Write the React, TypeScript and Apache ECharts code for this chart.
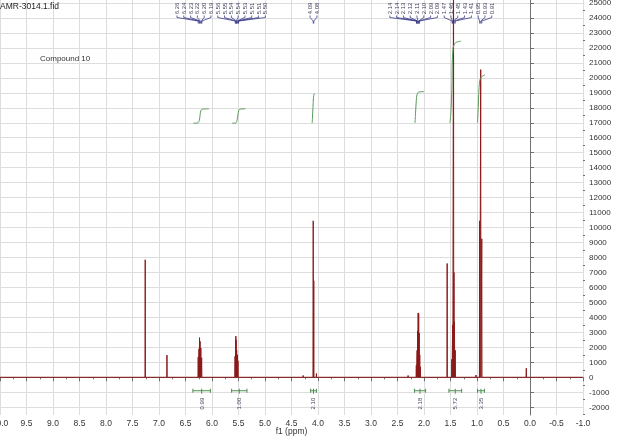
import React, { useEffect, useRef } from "react";
import * as echarts from "echarts";

const TITLE = "AMR-3014.1.fid";
const COMPOUND = "Compound 10";
const X_AXIS_NAME = "f1 (ppm)";
const FONT = "'Liberation Sans', Arial, sans-serif";

const X_MIN = -1;
const X_MAX = 10;
const Y_MIN = -2520;
const Y_MAX = 25200;

const Y_TICKS = [
  -2000, -1000, 0, 1000, 2000, 3000, 4000, 5000, 6000, 7000, 8000, 9000, 10000,
  11000, 12000, 13000, 14000, 15000, 16000, 17000, 18000, 19000, 20000, 21000,
  22000, 23000, 24000, 25000,
];
const Y_MINOR_TICKS = [
  -2500, -1500, -500, 500, 1500, 2500, 3500, 4500, 5500, 6500, 7500, 8500, 9500,
  10500, 11500, 12500, 13500, 14500, 15500, 16500, 17500, 18500, 19500, 20500,
  21500, 22500, 23500, 24500,
];

// spectrum lines (ppm, intensity)
const PEAK_PPM = [
  7.26, 6.85, 6.26, 6.245, 6.235, 6.225, 6.21, 6.195, 5.565, 5.55, 5.545, 5.535,
  5.52, 5.51, 4.28, 4.09, 4.08, 4.03, 2.3, 2.145, 2.13, 2.12, 2.11, 2.1, 2.09,
  2.08, 2.07, 1.563, 1.475, 1.46, 1.443, 1.435, 1.425, 1.41, 1.02, 0.95, 0.93,
  0.91, 0.07,
];
const PEAK_HEIGHT = [
  7850, 1480, 1350, 1900, 2650, 2400, 1950, 1300, 1400, 2750, 2500, 1800, 1500,
  1100, 120, 10450, 6450, 250, 120, 800, 1800, 3100, 4300, 4250, 2950, 1500, 700,
  7600, 1200, 3500, 30000, 7000, 3700, 1800, 150, 10450, 20550, 9250, 600,
];
const LINE_HALF_WIDTH = 0.004;

// integral curves (ppm, level)
const INTEGRAL_A = [[6.35, 16970], [6.27, 16990], [6.24, 17150], [6.225, 17500], [6.21, 17820], [6.18, 17910], [6.06, 17930]];
const INTEGRAL_B = [[5.62, 16970], [5.55, 16990], [5.525, 17200], [5.51, 17550], [5.495, 17830], [5.47, 17910], [5.37, 17930]];
const INTEGRAL_C = [[4.11, 16970], [4.105, 17300], [4.095, 18000], [4.085, 18700], [4.07, 18950], [4.06, 18970]];
const INTEGRAL_D = [[2.17, 16990], [2.16, 17600], [2.145, 18500], [2.13, 18900], [2.1, 19050], [2.0, 19080]];
const INTEGRAL_E = [[1.51, 16990], [1.49, 17800], [1.475, 19200], [1.46, 21600], [1.42, 22300], [1.3, 22450]];
const INTEGRAL_F = [[0.99, 17000], [0.977, 18000], [0.95, 19800], [0.91, 20080], [0.85, 20200]];
const INTEGRALS = [INTEGRAL_A, INTEGRAL_B, INTEGRAL_C, INTEGRAL_D, INTEGRAL_E, INTEGRAL_F];

// integral brackets at the bottom
const BRACKET_FROM = [6.36, 5.63, 4.14, 2.18, 1.53, 0.99];
const BRACKET_TO = [6.03, 5.34, 4.03, 1.97, 1.29, 0.86];
const BRACKET_LABEL = ["0.99", "1.00", "2.10", "2.18", "5.72", "3.35"];
const BRACKET_LEVEL = -900;
const BRACKET_TEXT_LEVEL = -1760;

// peak picking labels at the top
const PEAK_LABELS = [
  "6.26", "6.24", "6.23", "6.22", "6.20", "6.19",
  "5.56", "5.55", "5.54", "5.54", "5.53", "5.51", "5.51", "5.50",
  "4.09", "4.08",
  "2.14", "2.14", "2.13", "2.12", "2.11", "2.10", "2.09", "2.09",
  "1.47", "1.46", "1.45", "1.43", "1.41",
  "0.95", "0.93", "0.91",
];

function buildSpectrum() {
  const order = PEAK_PPM.map((_, i) => i).sort((a, b) => PEAK_PPM[b] - PEAK_PPM[a]);
  const data: number[][] = [[X_MAX, 0]];
  for (const i of order) {
    const p = PEAK_PPM[i];
    data.push([p + LINE_HALF_WIDTH, 0], [p, PEAK_HEIGHT[i]], [p - LINE_HALF_WIDTH, 0]);
  }
  data.push([X_MIN, 0]);
  return data;
}

function layoutLabels(xs: number[], gap: number) {
  let clusters = xs.map((x) => ({ sum: x, n: 1 }));
  let merged = true;
  while (merged) {
    merged = false;
    for (let i = 0; i < clusters.length - 1; i++) {
      const a = clusters[i];
      const b = clusters[i + 1];
      const aRight = a.sum / a.n + ((a.n - 1) / 2) * gap;
      const bLeft = b.sum / b.n - ((b.n - 1) / 2) * gap;
      if (bLeft - aRight < gap) {
        clusters.splice(i, 2, { sum: a.sum + b.sum, n: a.n + b.n });
        merged = true;
        break;
      }
    }
  }
  const out: number[] = [];
  for (const c of clusters) {
    const m = c.sum / c.n;
    for (let k = 0; k < c.n; k++) out.push(m + (k - (c.n - 1) / 2) * gap);
  }
  return out;
}

export default function App() {
  const ref = useRef<HTMLDivElement>(null);
  useEffect(() => {
    if (!ref.current) return;
    const chart = echarts.init(ref.current, null, { renderer: "svg" });
    const axisColor = "#707070";
    const gridColor = "#dddddd";
    const option: any = {
      animation: false,
      grid: { left: 0, right: 34, top: 0, bottom: 21, containLabel: false, outerBoundsMode: "none" },
      xAxis: {
        type: "value",
        inverse: true,
        min: X_MIN,
        max: X_MAX,
        interval: 0.5,
        axisLine: { show: true, lineStyle: { color: axisColor } },
        axisTick: { show: true, length: 4, lineStyle: { color: axisColor } },
        minorTick: { show: true, splitNumber: 2, length: 2, lineStyle: { color: axisColor } },
        axisLabel: {
          formatter: (v: number) => v.toFixed(1),
          margin: 3,
          fontSize: 8.5,
          color: "#333",
          fontFamily: FONT,
        },
        splitLine: { show: true, lineStyle: { color: gridColor, width: 1 } },
      },
      yAxis: [
        {
          type: "value",
          position: "right",
          min: Y_MIN,
          max: Y_MAX,
          axisLine: { show: true, lineStyle: { color: axisColor } },
          axisTick: { show: true, length: 4, customValues: Y_TICKS, lineStyle: { color: axisColor } },
          axisLabel: {
            customValues: Y_TICKS,
            formatter: (v: number) => String(v),
            margin: 6,
            fontSize: 8,
            color: "#333",
            fontFamily: FONT,
          },
          splitLine: { show: true, lineStyle: { color: gridColor, width: 1 } },
        },
        {
          type: "value",
          position: "right",
          min: Y_MIN,
          max: Y_MAX,
          axisLine: { show: false },
          axisTick: { show: true, length: 2, customValues: Y_MINOR_TICKS, lineStyle: { color: axisColor } },
          axisLabel: { show: false },
          splitLine: { show: false },
        },
      ],
      series: [
        {
          type: "line",
          data: buildSpectrum(),
          showSymbol: false,
          symbol: "none",
          clip: true,
          lineStyle: { color: "#8b1a1a", width: 1 },
          z: 3,
        },
        ...INTEGRALS.map((d) => ({
          type: "line",
          data: d,
          symbol: "none",
          smooth: 0.35,
          lineStyle: { color: "#5a9a5a", width: 1 },
          z: 4,
        })),
      ],
    };
    chart.setOption(option);

    const px = (ppm: number) => chart.convertToPixel({ xAxisIndex: 0 }, ppm) as number;
    const py = (v: number) => chart.convertToPixel({ yAxisIndex: 0 }, v) as number;

    const graphics: any[] = [
      {
        type: "text",
        left: 0,
        top: 1,
        style: { text: TITLE, fontSize: 8.5, fill: "#222", fontFamily: FONT },
      },
      {
        type: "text",
        left: 40,
        top: 54,
        style: { text: COMPOUND, fontSize: 8, fill: "#333", fontFamily: FONT },
      },
      {
        type: "text",
        x: (px(X_MIN) + px(X_MAX)) / 2,
        y: 431,
        style: { text: X_AXIS_NAME, fontSize: 8.5, fill: "#333", align: "center", verticalAlign: "middle", fontFamily: FONT },
        silent: true,
      },
    ];

    // integral brackets
    const bY = py(BRACKET_LEVEL);
    const tY = py(BRACKET_TEXT_LEVEL);
    BRACKET_LABEL.forEach((lab, i) => {
      const x1 = px(BRACKET_FROM[i]);
      const x2 = px(BRACKET_TO[i]);
      const xc = (x1 + x2) / 2;
      const ls = { stroke: "#4f8f4f", lineWidth: 1 };
      graphics.push(
        { type: "line", shape: { x1, y1: bY, x2, y2: bY }, style: ls, silent: true },
        { type: "line", shape: { x1, y1: bY - 2, x2: x1, y2: bY + 2 }, style: ls, silent: true },
        { type: "line", shape: { x1: x2, y1: bY - 2, x2, y2: bY + 2 }, style: ls, silent: true },
        { type: "line", shape: { x1: xc, y1: bY - 2, x2: xc, y2: bY + 3 }, style: ls, silent: true },
        {
          type: "text",
          x: xc,
          y: tY,
          rotation: Math.PI / 2,
          style: { text: lab, fontSize: 6, fill: "#454560", align: "center", verticalAlign: "middle", fontFamily: FONT },
          silent: true,
        }
      );
    });

    // peak labels
    const ideal = PEAK_LABELS.map((l) => px(parseFloat(l)));
    const placed = layoutLabels(ideal, 6.8);
    PEAK_LABELS.forEach((lab, i) => {
      const lx = placed[i];
      const pxx = ideal[i];
      graphics.push(
        {
          type: "text",
          x: lx,
          y: 8.5,
          rotation: Math.PI / 2,
          style: { text: lab, fontSize: 6, fill: "#3d3d5c", align: "center", verticalAlign: "middle", fontFamily: FONT },
          silent: true,
        },
        {
          type: "polyline",
          shape: { points: [[lx, 15.5], [lx, 17.5], [pxx, 21], [pxx, 23.5]] },
          style: { stroke: "#3a3a8a", lineWidth: 0.8, fill: null },
          silent: true,
        }
      );
    });

    chart.setOption({ graphic: graphics });
    return () => chart.dispose();
  }, []);
  return <div ref={ref} style={{ position: "fixed", left: 0, top: 0, width: 617, height: 436 }} />;
}
